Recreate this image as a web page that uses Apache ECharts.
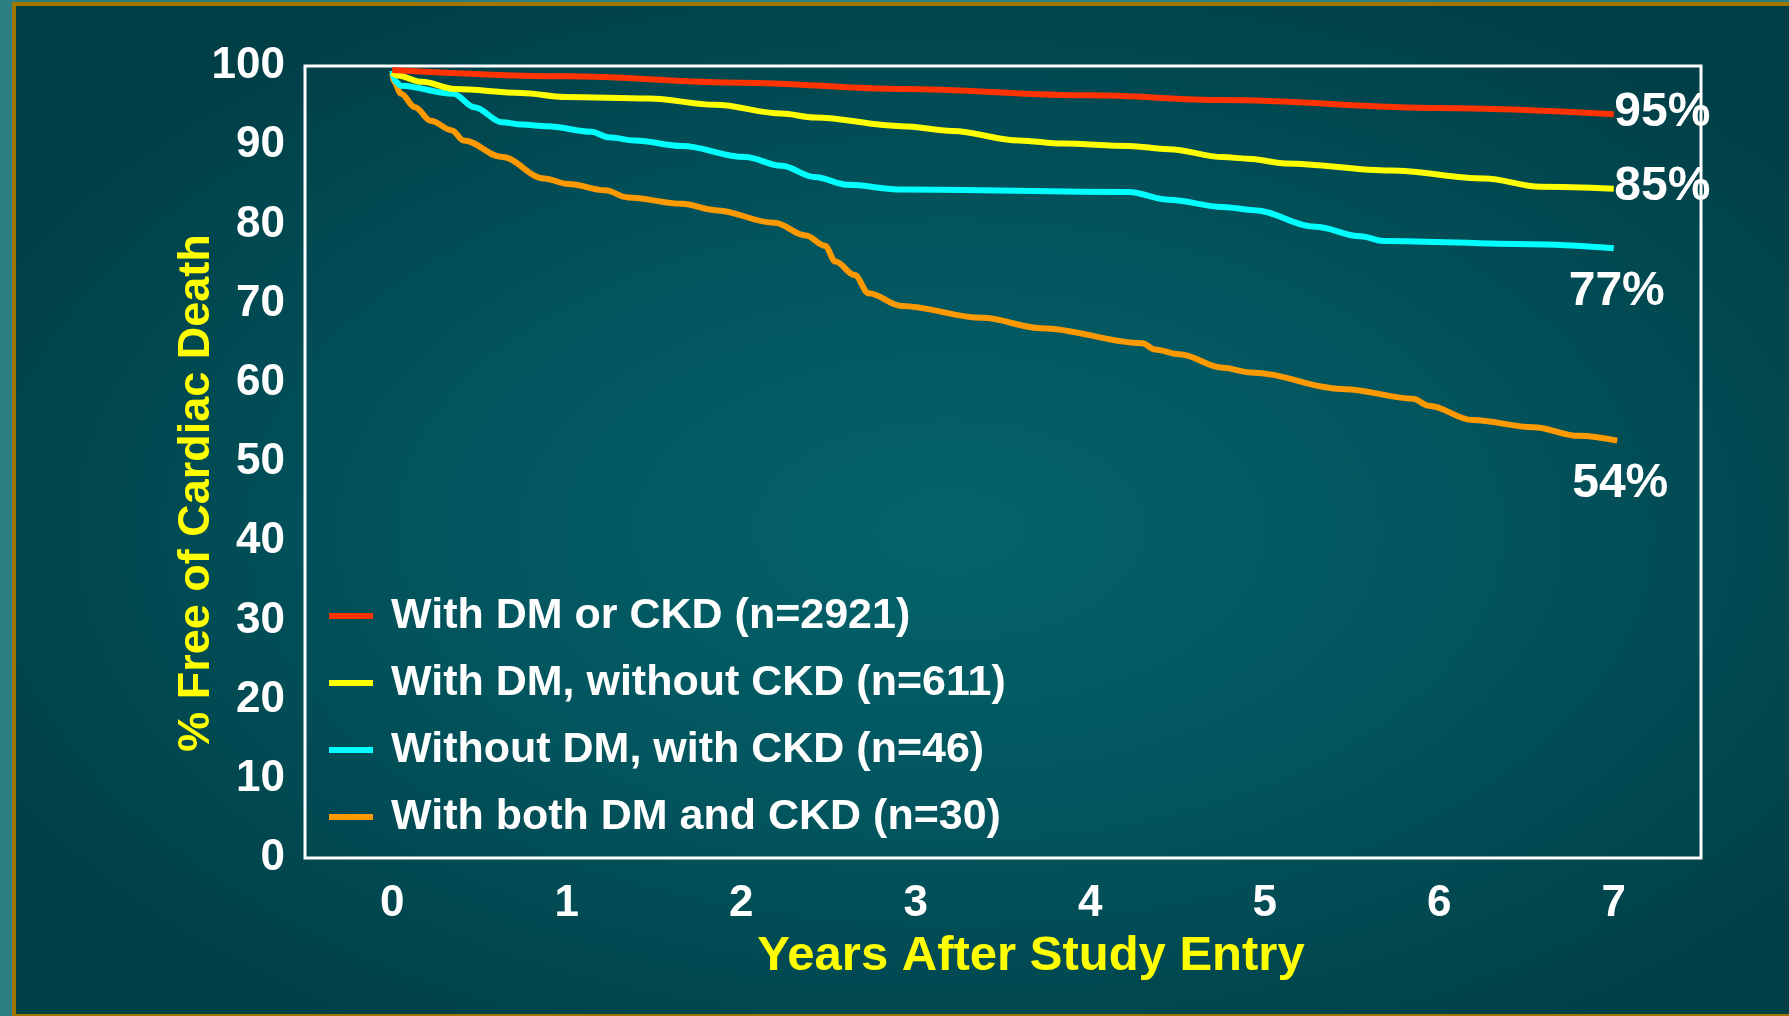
<!DOCTYPE html>
<html>
<head>
<meta charset="utf-8">
<title>Free of Cardiac Death</title>
<script src="https://cdn.jsdelivr.net/npm/echarts@6/dist/echarts.min.js"></script>
<style>
  html, body { margin: 0; padding: 0; width: 1789px; height: 1016px; overflow: hidden; background: #2b7f80; }
  .frame {
    position: absolute; left: 12px; top: 2px; width: 1800px; height: 1014px;
    box-sizing: border-box;
    border: 4px solid #a07800; border-bottom-width: 2px; border-right: none;
    background: radial-gradient(ellipse 60% 60% at 52% 52%, #04636b 0%, #02545d 50%, #013f47 100%);
  }
  #chart { position: absolute; left: 0; top: 0; width: 1789px; height: 1016px; }
</style>
</head>
<body>
<div class="frame"></div>
<div id="chart"></div>
<script>
// [years, % free of cardiac death]
const dmOrCkd = [[0, 99.5], [1, 98.7], [2, 97.9], [2.92, 97.1], [4, 96.3], [4.76, 95.7], [6, 94.7], [7, 93.9]]
const dmNoCkd = [[0, 99.2], [0.03, 98.8], [0.17, 98.0], [0.36, 97.1], [0.74, 96.6], [0.99, 96.1], [1.47, 95.9],
  [1.85, 95.1], [2.23, 94.0], [2.42, 93.5], [2.92, 92.4], [3.21, 91.8], [3.59, 90.6], [3.84, 90.2], [4.22, 89.9],
  [4.45, 89.5], [4.76, 88.5], [4.9, 88.3], [5.12, 87.7], [5.72, 86.8], [6.26, 85.8], [6.58, 84.75], [7, 84.5]]
const ckdNoDm = [[0, 99.4], [0.02, 98.0], [0.05, 97.5], [0.35, 96.5], [0.47, 94.8], [0.63, 92.9], [0.74, 92.6],
  [0.89, 92.4], [1.14, 91.7], [1.24, 91.0], [1.39, 90.6], [1.66, 89.9], [2.02, 88.5], [2.23, 87.4], [2.42, 86.0],
  [2.61, 85.0], [2.92, 84.4], [4.22, 84.1], [4.45, 83.1], [4.76, 82.2], [4.94, 81.8], [5.29, 79.7], [5.55, 78.5],
  [5.68, 77.9], [6.52, 77.5], [7, 77.0]]
const dmAndCkd = [[0, 99.0], [0.01, 98.0], [0.05, 96.5], [0.13, 94.8], [0.22, 93.1], [0.34, 91.9], [0.41, 90.6],
  [0.63, 88.5], [0.87, 85.8], [1.01, 85.1], [1.22, 84.3], [1.35, 83.4], [1.66, 82.6], [1.85, 81.8], [2.19, 80.2],
  [2.37, 78.6], [2.48, 77.3], [2.54, 75.3], [2.65, 73.6], [2.73, 71.3], [2.92, 69.7], [3.38, 68.2], [3.72, 66.9],
  [4.3, 65.0], [4.37, 64.2], [4.51, 63.6], [4.76, 61.9], [4.92, 61.3], [5.46, 59.2], [5.85, 58.0], [5.94, 57.1],
  [6.19, 55.3], [6.54, 54.4], [6.8, 53.3], [7.02, 52.7]]

const seriesNames = ['With DM or CKD (n=2921)', 'With DM, without CKD (n=611)', 'Without DM, with CKD (n=46)', 'With both DM and CKD (n=30)']
const seriesData = [dmOrCkd, dmNoCkd, ckdNoDm, dmAndCkd]
const seriesColors = ['#ff3300', '#ffff00', '#00ffff', '#ff9900']
const endLabels = ['95%', '85%', '77%', '54%']
const xTicks = [0, 1, 2, 3, 4, 5, 6, 7]

const FONT = '"Liberation Sans", Arial, sans-serif'

const chart = echarts.init(document.getElementById('chart'))

// end-of-curve percentages: top two sit right of the line end, bottom two below it
function endMark(i) {
  const last = seriesData[i][seriesData[i].length - 1]
  const below = i >= 2
  return {
    silent: true,
    symbol: 'circle',
    symbolSize: 1,
    itemStyle: { color: 'transparent' },
    data: [{ coord: last, name: endLabels[i] }],
    label: {
      show: true,
      formatter: '{b}',
      position: below ? 'bottom' : 'right',
      distance: below ? 19 : 0,
      offset: below ? [3, 0] : [0, -2],
      color: '#fff',
      fontSize: 48,
      fontWeight: 'bold',
      fontFamily: FONT
    }
  }
}

const option = {
  animation: false,
  backgroundColor: 'transparent',
  grid: {
    left: 305, right: 88, top: 66, bottom: 158,
    show: true, borderColor: '#fff', borderWidth: 3, backgroundColor: 'transparent'
  },
  legend: {
    orient: 'vertical',
    left: 324,
    top: 586,
    icon: 'rect',
    itemWidth: 44,
    itemHeight: 6,
    itemGap: 17,
    data: seriesNames,
    textStyle: {
      color: '#fff', fontSize: 43, fontWeight: 'bold', fontFamily: FONT,
      lineHeight: 50, padding: [0, 0, 0, 13]
    }
  },
  xAxis: {
    type: 'value',
    min: -0.5,
    max: 7.5,
    interval: 0.5,
    name: 'Years After Study Entry',
    nameLocation: 'middle',
    nameGap: 74,
    nameMoveOverlap: false,
    nameTextStyle: { color: '#ffff00', fontSize: 49, fontWeight: 'bold', fontFamily: FONT, padding: [0, 0, 0, 56] },
    axisLine: { show: false },
    axisTick: { show: false },
    splitLine: { show: false },
    axisLabel: {
      color: '#fff', fontSize: 44, fontWeight: 'bold', fontFamily: FONT, margin: 24,
      formatter: v => (xTicks.includes(v) ? String(v) : '')
    }
  },
  yAxis: {
    type: 'value',
    min: 0,
    max: 100,
    interval: 10,
    name: '% Free of Cardiac Death',
    nameLocation: 'middle',
    nameGap: 86,
    nameMoveOverlap: false,
    nameTextStyle: { color: '#ffff00', fontSize: 45, fontWeight: 'bold', fontFamily: FONT, padding: [0, 62, 0, 0] },
    axisLine: { show: false },
    axisTick: { show: false },
    splitLine: { show: false },
    axisLabel: { color: '#fff', fontSize: 44, fontWeight: 'bold', fontFamily: FONT, margin: 20 }
  },
  series: seriesNames.map((name, i) => ({
    name,
    type: 'line',
    data: seriesData[i],
    showSymbol: false,
    symbol: 'none',
    smooth: 0.35,
    smoothMonotone: 'x',
    color: seriesColors[i],
    lineStyle: { width: 6, color: seriesColors[i] },
    z: 10 - i,
    markPoint: endMark(i)
  }))
}

chart.setOption(option)
</script>
</body>
</html>
